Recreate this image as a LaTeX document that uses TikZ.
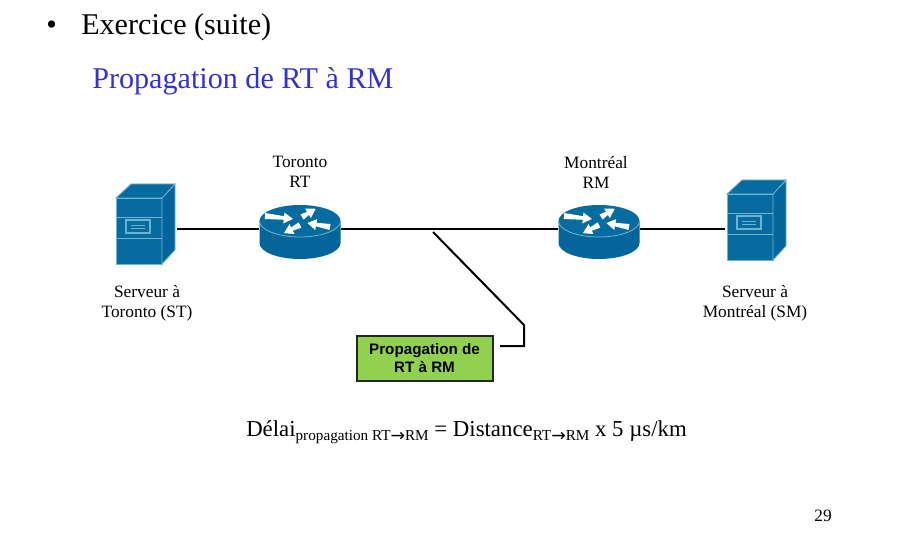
\documentclass[tikz,border=0pt]{standalone}
\usepackage{fontspec}
\setmainfont{Liberation Serif}
\newfontfamily\boxfont{Liberation Sans}
\newfontfamily\arrowfont{DejaVu Sans}
\usetikzlibrary{arrows}
\definecolor{ciscoblue}{HTML}{066C9F}
\definecolor{ciscodark}{HTML}{03659A}
\definecolor{ciscoedge}{HTML}{6FB3D2}
\definecolor{boxgreen}{HTML}{92D050}
\definecolor{titleblue}{HTML}{3333CC}
\newcommand{\subtext}[1]{\raisebox{-3.6pt}{\fontsize{11.4}{12}\selectfont #1}}
\newcommand{\rtarrow}{{\arrowfont\fontsize{13}{12}\selectfont\raisebox{-0.8pt}{→}}}
\tikzset{
  every node/.style={inner sep=0, align=center},
  bigtext/.style={font=\fontsize{22.6}{26}\selectfont, anchor=base west},
  smalltext/.style={font=\fontsize{13}{15}\selectfont},
  hostspot/.style={minimum width=46*0.75pt, minimum height=66*0.75pt},
  routerspot/.style={minimum width=81*0.75pt, minimum height=40*0.75pt},
  wire/.style={line width=1.5pt},
  leader/.style={line width=1.5pt, line join=miter},
  pics/serverpic/.style={code={
    \draw[fill=ciscoblue, draw=ciscoedge, line width=0.6pt]
      (-23,-33) rectangle (23,33);
    \draw[fill=ciscodark, draw=ciscoedge, line width=0.6pt]
      (23,-33) -- (36,-47) -- (36,19) -- (23,33) -- cycle;
    \draw[fill=ciscoblue, draw=ciscoedge, line width=0.6pt]
      (-23,-33) -- (-8,-47) -- (36,-47) -- (23,-33) -- cycle;
    \draw[ciscoedge, line width=0.7pt] (-23,-14) -- (23,-14) (-23,7) -- (23,7);
    \draw[ciscoedge, line width=1pt] (-13,-11) rectangle (11,2);
    \draw[ciscoedge, line width=0.7pt] (-8,-5.5) -- (6,-5.5) (-8,-2.5) -- (6,-2.5);
  }},
  pics/routerpic/.style={code={
    \fill[ciscodark] (-40.5,-8) -- (-40.5,14) arc[start angle=180, end angle=360, x radius=40.5, y radius=-16]
      -- (40.5,-8) -- cycle;
    \fill[ciscoblue] (0,-8) ellipse[x radius=40.5, y radius=16];
    \draw[ciscoedge, line width=0.6pt] (-40.5,-8) arc[start angle=180, end angle=360, x radius=40.5, y radius=-16];
    % x/y/angle/length of the white arrows
    \foreach \ax/\ay/\aa/\al in {-35/-13/-6/28, 2/-12/31/16, 30/-2/170/23, 0/-4/207/18}
      \fill[white, shift={(\ax,\ay)}, rotate=\aa]
        (0,-3) -- (\al-9,-1.8) -- (\al-9,-5.5) -- (\al,0) -- (\al-9,5.5) -- (\al-9,1.8) -- (0,3) -- cycle;
  }}
}

\begin{document}
\begin{tikzpicture}[x=0.75pt, y=-0.75pt]
  \useasboundingbox (0,0) rectangle (909,559);

  % title
  \node[bigtext] (bullet) at (46,35) {•};
  \node[bigtext] (exercice) at (81,35) {Exercice (suite)};
  \node[bigtext, text=titleblue] (titre) at (92,89) {Propagation de RT à RM};

  % network
  \node[hostspot] (ST) at (139,231) {};
  \node[routerspot] (RT) at (300,229) {};
  \node[routerspot] (RM) at (599,229) {};
  \node[hostspot] (SM) at (750,227) {};
  \coordinate (STport) at (177,229);
  \coordinate (SMport) at (725,229);
  \draw[wire] (STport) -- (RT.west);
  \draw[wire] (RT.east) -- (RM.west);
  \draw[wire] (RM.east) -- (SMport);
  \pic at (ST) {serverpic};
  \pic at (SM) {serverpic};
  \pic at (RT) {routerpic};
  \pic at (RM) {routerpic};

  % labels
  \node[smalltext] (labelRT) at (300,172) {Toronto\\RT};
  \node[smalltext] (labelRM) at (596,172) {Montréal\\RM};
  \node[smalltext] (labelST) at (147,303) {Serveur à\\Toronto (ST)};
  \node[smalltext] (labelSM) at (755,303) {Serveur à\\Montréal (SM)};

  % callout
  \node[draw=black!85, fill=boxgreen, line width=1.5pt, minimum width=136*0.75pt, minimum height=45*0.75pt,
    font=\boxfont\bfseries\fontsize{11.4}{13.5}\selectfont] (callout) at (424.5,358) {Propagation de\\RT à RM};
  \coordinate (leadA) at (433,232);
  \coordinate (leadB) at (524,325);
  \coordinate (leadC) at (524,346);
  \coordinate (leadD) at ([shift={(6.5,-12)}]callout.east);
  \draw[leader] (leadA) -- (leadB) -- (leadC) -- (leadD);

  % formula
  \node[font=\fontsize{17.1}{20}\selectfont, anchor=base west] (formule) at (246,436)
    {Délai\subtext{propagation RT\rtarrow RM} = Distance\subtext{RT\rtarrow RM} x 5 µs/km};
  \node[smalltext, anchor=base] (page) at (823,521) {29};
\end{tikzpicture}
\end{document}
